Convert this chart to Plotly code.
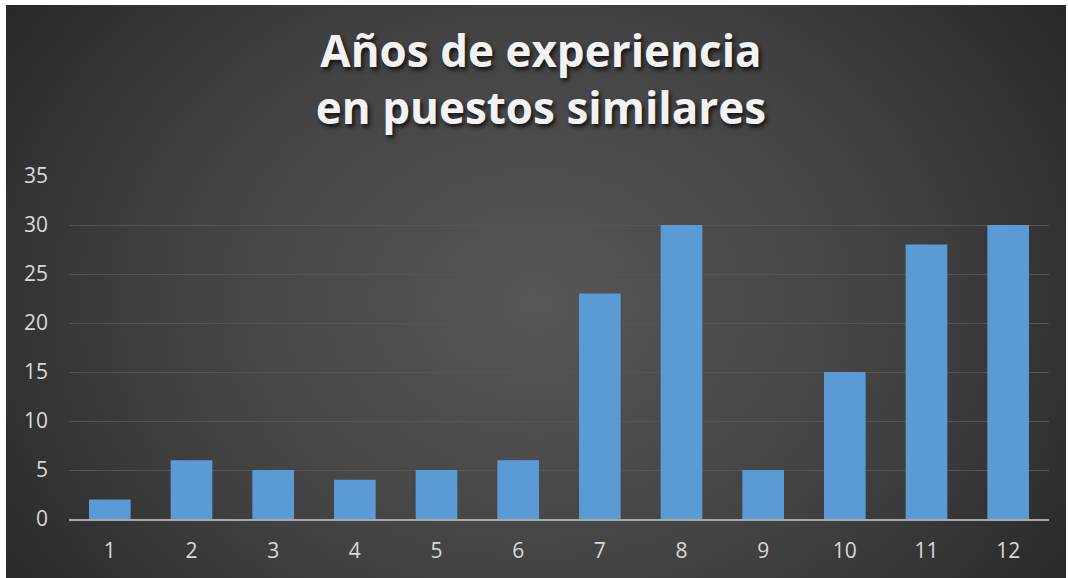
import base64
import plotly.graph_objects as go

categories = ["1", "2", "3", "4", "5", "6", "7", "8", "9", "10", "11", "12"]
values = [2, 6, 5, 4, 5, 6, 23, 30, 5, 15, 28, 30]
y_ticks = [0, 5, 10, 15, 20, 25, 30, 35]

W, H = 1068, 578
L, R, T, B = 69, 19, 176, 59
pw, ph = W - L - R, H - T - B

svg = (
    '<svg xmlns="http://www.w3.org/2000/svg" width="1060" height="573" viewBox="0 0 1060 573" preserveAspectRatio="none">'
    '<defs><radialGradient id="g" cx="0.5" cy="0.52" r="0.62" gradientTransform="translate(0.5 0.52) scale(1 1.5) translate(-0.5 -0.52)">'
    '<stop offset="0" stop-color="#575757"/><stop offset="0.55" stop-color="#424242"/><stop offset="1" stop-color="#272727"/>'
    '</radialGradient></defs><rect width="1060" height="573" fill="url(#g)"/></svg>'
)
src = "data:image/svg+xml;base64," + base64.b64encode(svg.encode()).decode()

bg_x0, bg_y0, bg_x1, bg_y1 = 6, 5, 1066, 578

fig = go.Figure(
    go.Bar(
        x=categories,
        y=values,
        marker=dict(color="#5b9bd5", line=dict(width=0)),
        hoverinfo="x+y",
    )
)

fig.update_layout(
    width=W,
    height=H,
    margin=dict(l=L, r=R, t=T, b=B, pad=0),
    paper_bgcolor="white",
    plot_bgcolor="rgba(0,0,0,0)",
    bargap=0.49,
    showlegend=False,
    title=dict(
        text="Años de experiencia<br>en puestos similares",
        x=541 / W,
        xanchor="center",
        xref="container",
        y=1 - 67 / H,
        yanchor="top",
        yref="container",
        font=dict(family="Open Sans", size=44, color="#f2f2f2", weight="bold",
                  shadow="2px 3px 4px rgba(0,0,0,0.75)"),
    ),
    images=[dict(
        source=src,
        xref="paper", yref="paper",
        x=(bg_x0 - L) / pw, y=(H - B - bg_y0) / ph,
        sizex=(bg_x1 - bg_x0) / pw, sizey=(bg_y1 - bg_y0) / ph,
        xanchor="left", yanchor="top",
        sizing="stretch", layer="below",
    )],
    xaxis=dict(
        showgrid=False,
        showline=True,
        linecolor="#a9a9a9",
        linewidth=2,
        ticks="",
        tickfont=dict(family="Open Sans", size=21, color="#d9d9d9"),
        ticklabelstandoff=12,
        zeroline=False,
    ),
    yaxis=dict(
        range=[0, 35],
        tickvals=y_ticks,
        showgrid=True,
        gridcolor="#555555",
        gridwidth=1,
        zeroline=False,
        showline=False,
        ticks="",
        tickfont=dict(family="Open Sans", size=21, color="#d9d9d9"),
        ticklabelstandoff=20,
    ),
)

fig.write_html("out.html")
